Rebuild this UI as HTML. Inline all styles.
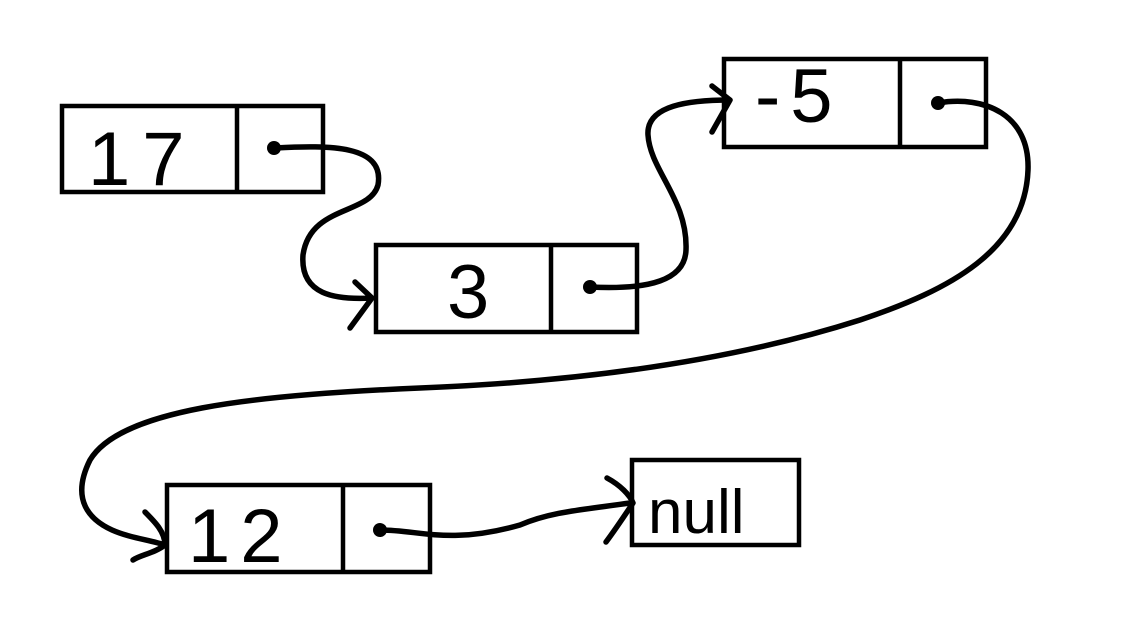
<!DOCTYPE html>
<html><head><meta charset="utf-8"><style>
html,body{margin:0;padding:0;background:#fff;width:1135px;height:626px;overflow:hidden}
text{font-family:"Liberation Sans",sans-serif;fill:#000}
</style></head><body>
<svg width="1135" height="626" viewBox="0 0 1135 626">
<g fill="none" stroke="#000" stroke-width="4.5">
<g><rect x="62" y="106" width="261" height="86"/><line x1="237" y1="106" x2="237" y2="192"/></g>
<g><rect x="376" y="245" width="261" height="87"/><line x1="551" y1="245" x2="551" y2="332"/></g>
<g><rect x="724" y="59" width="262" height="88"/><line x1="900" y1="59" x2="900" y2="147"/></g>
<g><rect x="167" y="485" width="263" height="87"/><line x1="343" y1="485" x2="343" y2="572"/></g>
<g><rect x="632" y="460" width="167" height="85"/></g>
</g>
<g fill="none" stroke="#000" stroke-width="5.5" stroke-linecap="round" stroke-linejoin="round">
<path d="M275,148 C330,145 385,145 378,185 C370,215 310,205 303,255 C300,295 335,300 372,298 M355,282 L372,298 L350,328"/>
<path d="M590,287 C650,290 685,280 686,250 C688,200 650,170 648,135 C646,105 690,100 730,100 M712,86 L730,100 L712,132"/>
<path d="M938,103 C985,95 1030,115 1028,170 C1025,250 950,290 860,320 C760,352 620,380 420,388 C250,395 120,410 90,460 C70,500 90,520 112,530 C130,538 150,540 165,545 M145,512 C155,522 165,532 165,545 C155,553 140,555 133,560"/>
<path d="M380,530 C420,530 450,545 520,525 C550,512 580,510 630,503 M607,478 C620,485 630,495 633,503 C625,515 615,530 606,542"/>
</g>
<g fill="#000">
<circle cx="274" cy="148" r="7"/>
<circle cx="590" cy="287" r="7"/>
<circle cx="938" cy="103" r="7"/>
<circle cx="380" cy="530" r="7"/>
</g>
<text x="88" y="185" font-size="76" letter-spacing="12">17</text>
<text x="447" y="318" font-size="76">3</text>
<text x="755" y="122" font-size="76" letter-spacing="10">-5</text>
<text x="188" y="562" font-size="76" letter-spacing="10">12</text>
<text x="648" y="533" font-size="62">null</text>
</svg>
</body></html>
